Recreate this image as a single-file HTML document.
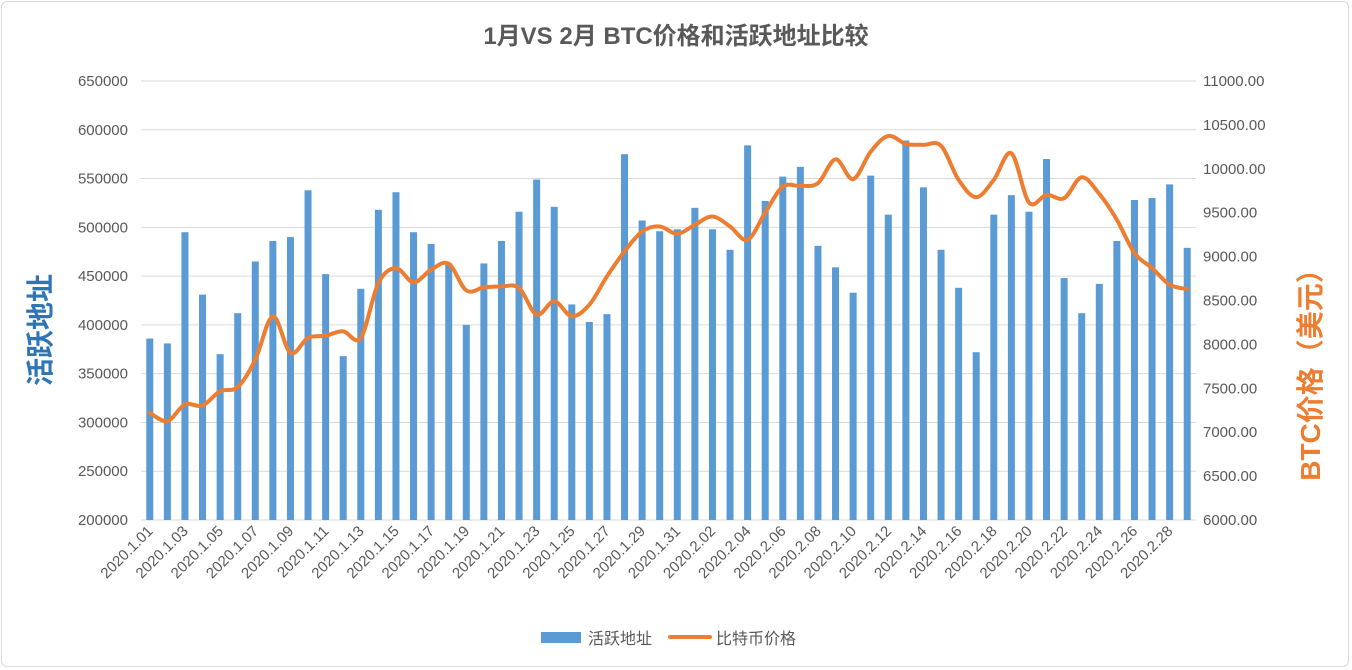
<!DOCTYPE html>
<html><head><meta charset="utf-8"><style>
html,body{margin:0;padding:0;background:#fff;}
#wrap{position:relative;width:1352px;height:670px;overflow:hidden;font-family:"Liberation Sans","Noto Sans CJK SC",sans-serif;}
#frame{position:absolute;left:1px;top:1px;width:1348px;height:666px;border:1px solid #d9d9d9;border-radius:6px;box-sizing:border-box;}
</style></head><body>
<div id="wrap">
<div id="frame"></div>
<svg id="chart" width="1352" height="670" style="position:absolute;left:0;top:0"></svg>
</div>
<script>
const categories = [];
for (let d=1; d<=31; d++) categories.push('2020.1.' + (d<10?'0'+d:d));
for (let d=1; d<=29; d++) categories.push('2020.2.' + (d<10?'0'+d:d));
const activeAddresses = [386000,381000,495000,431000,370000,412000,465000,486000,490000,538000,452000,368000,437000,518000,536000,495000,483000,463000,400000,463000,486000,516000,549000,521000,421000,403000,411000,575000,507000,496000,498000,520000,498000,477000,584000,527000,552000,562000,481000,459000,433000,553000,513000,589000,541000,477000,438000,372000,513000,533000,516000,570000,448000,412000,442000,486000,528000,530000,544000,479000];
const btcPrice = [7221,7127,7316,7304,7467,7513,7827,8320,7903,8074,8100,8149,8074,8699,8869,8706,8851,8919,8615,8649,8660,8643,8339,8491,8320,8452,8775,9059,9286,9343,9260,9362,9457,9343,9191,9502,9797,9805,9836,10108,9882,10196,10374,10283,10273,10262,9874,9677,9874,10177,9616,9703,9665,9904,9714,9419,9040,8869,8680,8631];
const leftTicks = [200000,250000,300000,350000,400000,450000,500000,550000,600000,650000];
const rightTicks = [6000,6500,7000,7500,8000,8500,9000,9500,10000,10500,11000];

const NS='http://www.w3.org/2000/svg';
const svg=document.getElementById('chart');
const PL=141, PR=1196, PT=81, PB=520;
const step=(PR-PL)/categories.length;
function xC(i){return PL+step*(i+0.5);}
function yL(v){return PB-(v-200000)/450000*(PB-PT);}
function yR(v){return PB-(v-6000)/5000*(PB-PT);}
function mk(tag,attrs,parent){const e=document.createElementNS(NS,tag);for(const k in attrs)e.setAttribute(k,attrs[k]);(parent||svg).appendChild(e);return e;}

// gridlines
leftTicks.forEach(t=>{
  const g=mk('line',{x1:PL,x2:PR,y1:yL(t),y2:yL(t),stroke:'#d9d9d9','stroke-width':1});
  
  
  const tx=mk('text',{x:128,y:yL(t)+5,'text-anchor':'end','font-size':15,fill:'#595959'});
  tx.textContent=t;
  
  
});
rightTicks.forEach(t=>{
  const tx=mk('text',{x:1203,y:yR(t)+5,'font-size':15,fill:'#595959'});
  tx.textContent=t.toFixed(2);
  
  
});
// bars
activeAddresses.forEach((v,i)=>{
  const r=mk('rect',{x:xC(i)-3.5,y:yL(v),width:7,height:PB-yL(v),fill:'#5B9BD5'});
  
  
});
// x labels
categories.forEach((c,i)=>{
  if(i%2!==0) return;
  const x=xC(i)+4, y=532;
  const tx=mk('text',{x:x,y:y,'text-anchor':'end','font-size':15,fill:'#595959',transform:`rotate(-45 ${x} ${y})`});
  tx.textContent=c;
  
  
});
// smooth line
const pts=btcPrice.map((v,i)=>[xC(i),yR(v)]);
let d=`M${pts[0][0]},${pts[0][1]}`;
for(let i=0;i<pts.length-1;i++){
  const p0=pts[Math.max(0,i-1)],p1=pts[i],p2=pts[i+1],p3=pts[Math.min(pts.length-1,i+2)];
  const t=1/6;
  d+=` C${p1[0]+(p2[0]-p0[0])*t},${p1[1]+(p2[1]-p0[1])*t} ${p2[0]-(p3[0]-p1[0])*t},${p2[1]-(p3[1]-p1[1])*t} ${p2[0]},${p2[1]}`;
}
const line=mk('path',{d:d,fill:'none',stroke:'#ED7D31','stroke-width':4,'stroke-linecap':'round','stroke-linejoin':'round'});



// title
const title=mk('text',{x:676,y:44,'text-anchor':'middle','font-size':24,'font-weight':'bold',fill:'#595959'});
title.textContent='1月VS 2月 BTC价格和活跃地址比较';


// axis titles
const lt=mk('text',{x:50,y:330,'text-anchor':'middle','font-size':28,'font-weight':'bold',fill:'#2E75B6',transform:'rotate(-90 50 330)'});
lt.textContent='活跃地址';


const rt=mk('text',{x:1320,y:368,'text-anchor':'middle','font-size':28,'font-weight':'bold',fill:'#ED7D31',transform:'rotate(-90 1320 368)'});
rt.textContent='BTC价格（美元）';


// legend
const lg=mk('g',{});


const l1=mk('rect',{x:541,y:632,width:40,height:11,fill:'#5B9BD5'},lg);


const l1t=mk('text',{x:588,y:644,'font-size':16,fill:'#595959'},lg);
l1t.textContent='活跃地址';


const l2=mk('line',{x1:670,x2:710,y1:637,y2:637,stroke:'#ED7D31','stroke-width':4,'stroke-linecap':'round'},lg);


const l2t=mk('text',{x:716,y:644,'font-size':16,fill:'#595959'},lg);
l2t.textContent='比特币价格';


</script>
</body></html>
